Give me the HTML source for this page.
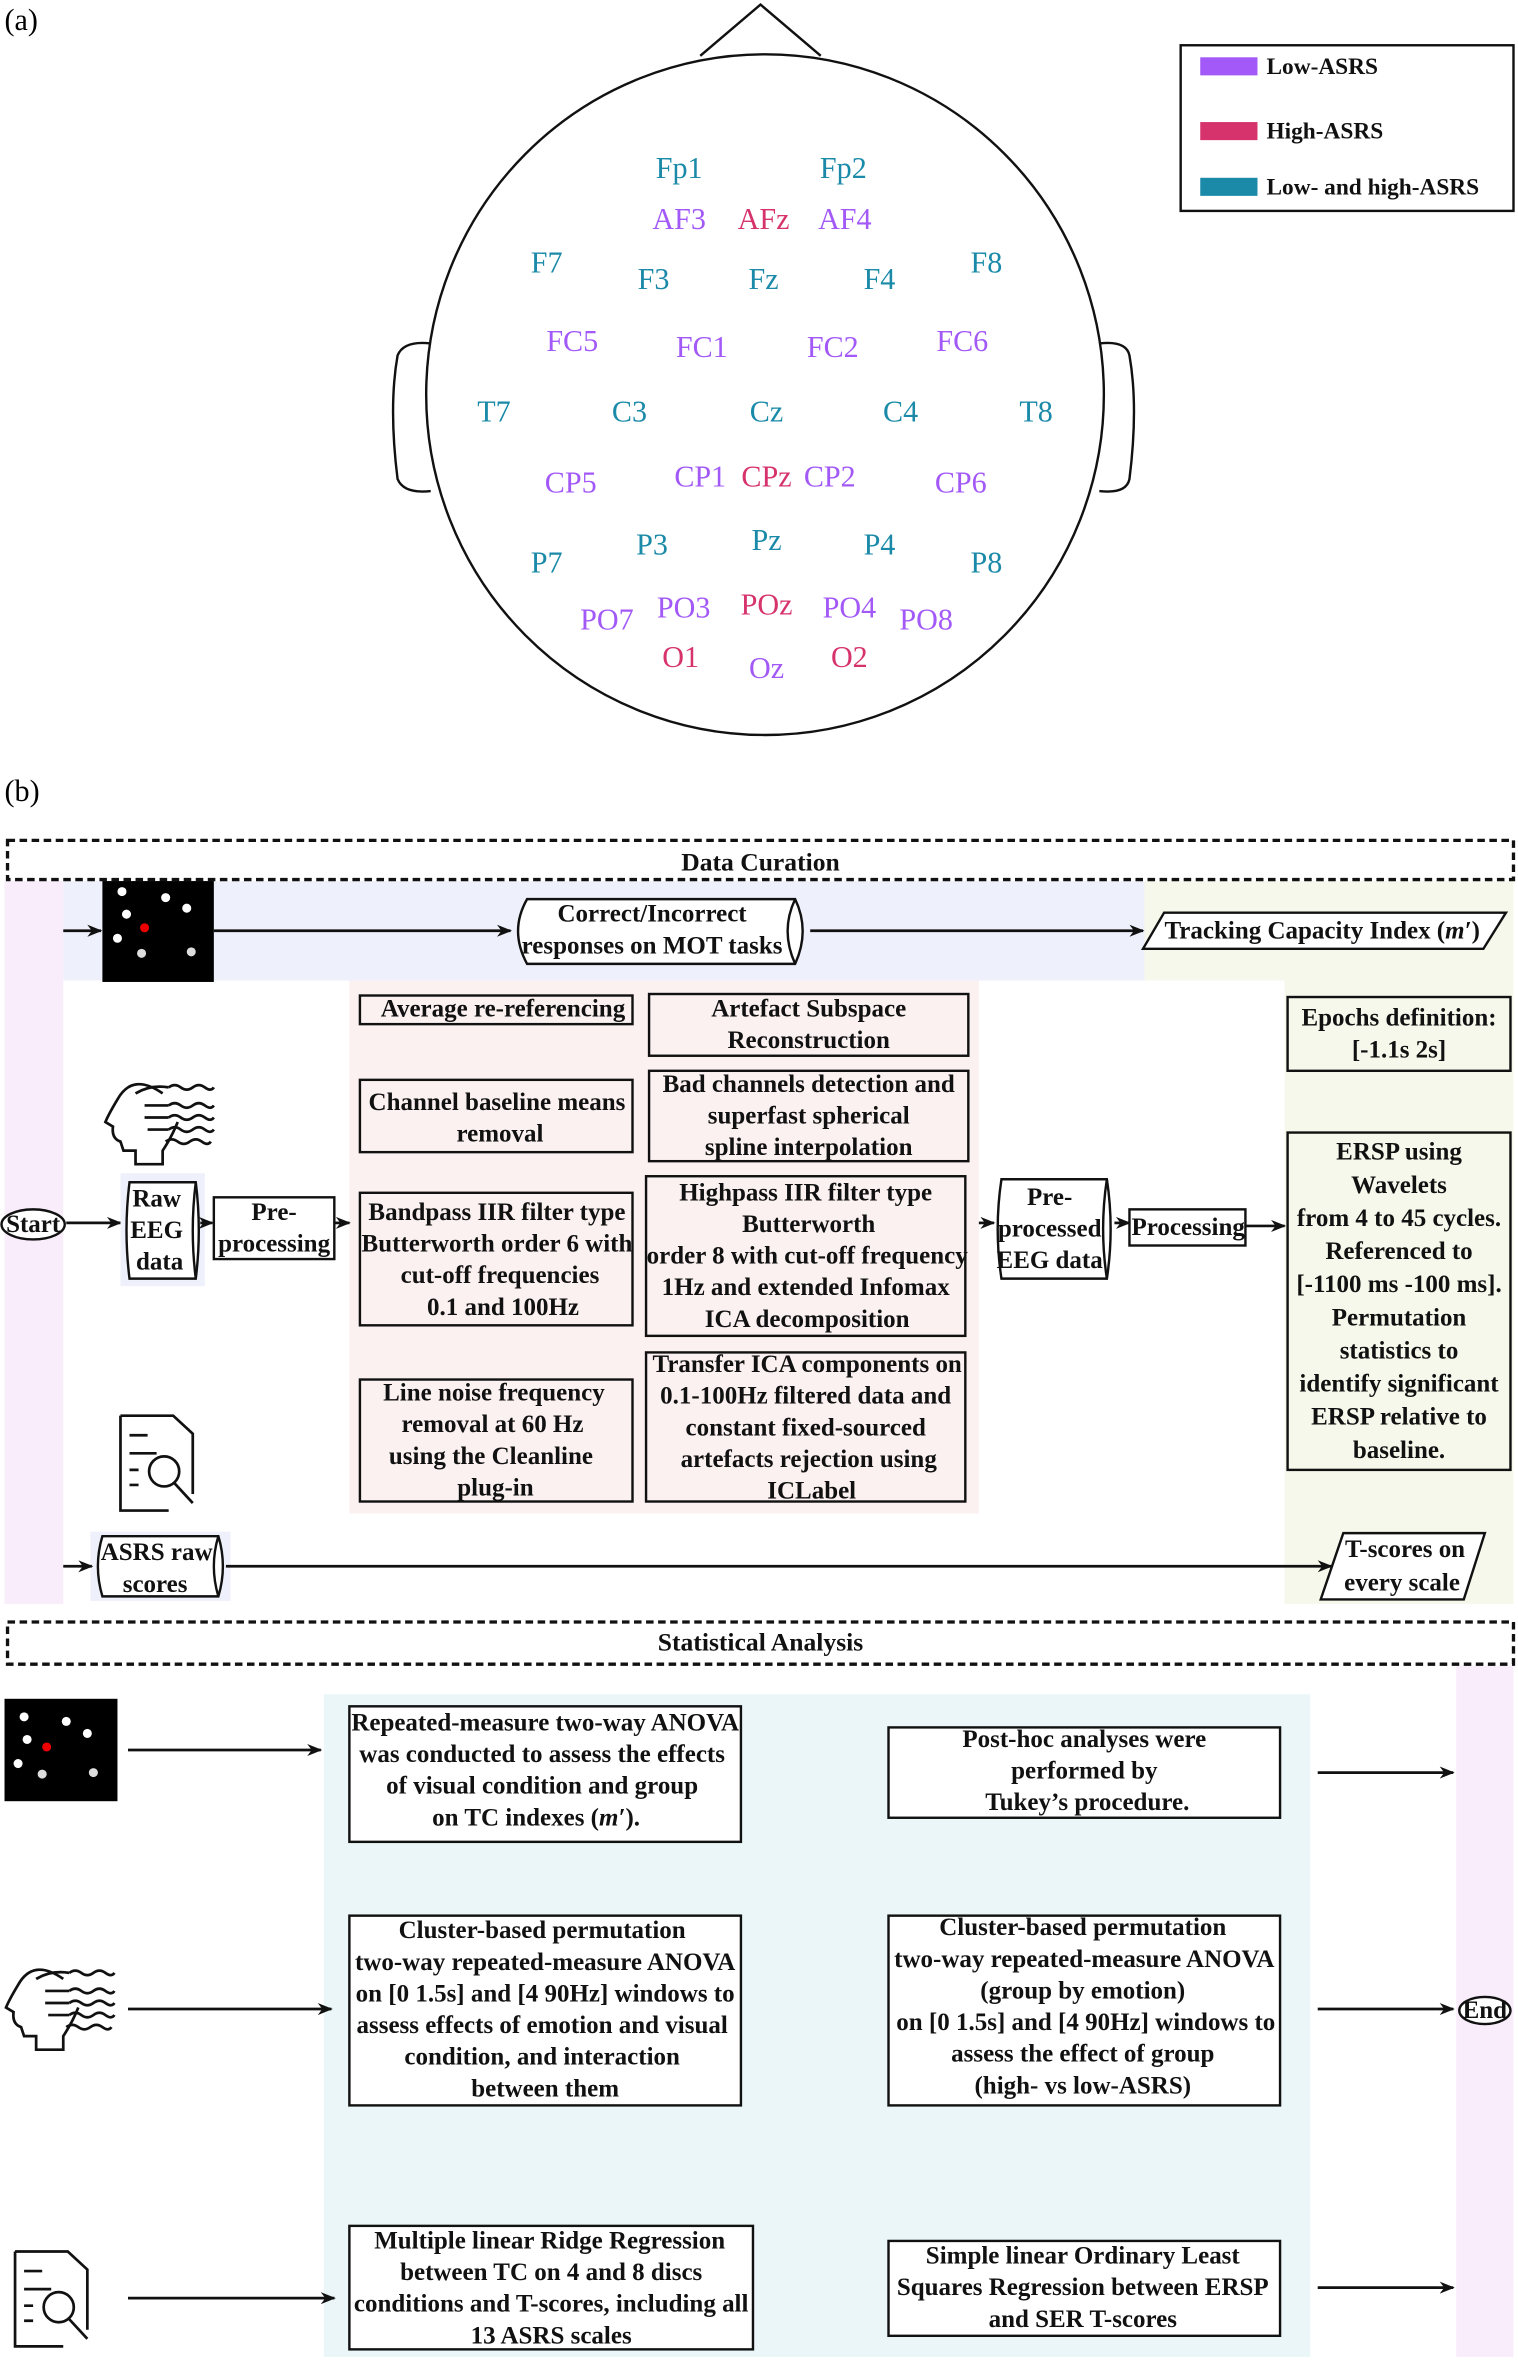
<!DOCTYPE html>
<html><head><meta charset="utf-8"><style>
html,body{margin:0;padding:0;background:#fff;}
svg{display:block;}
.t{font-family:"Liberation Serif",serif;font-weight:bold;font-size:16.6px;text-anchor:middle;fill:#111;}
.e{font-family:"Liberation Serif",serif;font-size:20px;text-anchor:middle;}
.tl{fill:#1a8aa8}.pu{fill:#a259f7}.pk{fill:#d6336c}
.b{fill:none;stroke:#111;stroke-width:1.6}
.bf{stroke:#111;stroke-width:1.6}
.l{stroke:#111;stroke-width:1.8;fill:none}
</style></head><body>
<svg width="1518" height="2363" viewBox="0 0 1008 1569" xmlns="http://www.w3.org/2000/svg">
<defs><marker id="a" markerWidth="10" markerHeight="8" refX="9" refY="4" orient="auto" markerUnits="userSpaceOnUse"><path d="M0,0 L10,4 L0,8 L3,4z" fill="#111"/></marker></defs>
<text x="3" y="20" style="font-family:'Liberation Serif',serif;font-size:20px">(a)</text>
<text x="3" y="532" style="font-family:'Liberation Serif',serif;font-size:20px">(b)</text>
<!-- head -->
<path d="M465,37 L505,3 L545,37" class="b"/>
<path d="M286,228 Q268,226 264,236 Q258,270 264,318 Q268,328 286,326" class="b"/>
<path d="M730,228 Q748,226 750,236 Q756,270 750,318 Q748,328 730,326" class="b"/>
<ellipse cx="508" cy="262" rx="225" ry="226" class="b" fill="#fff"/>
<g class="e">
<text x="451" y="118" class="tl">Fp1</text><text x="560" y="118" class="tl">Fp2</text>
<text x="451" y="152" class="pu">AF3</text><text x="507" y="152" class="pk">AFz</text><text x="561" y="152" class="pu">AF4</text>
<text x="363" y="181" class="tl">F7</text><text x="434" y="192" class="tl">F3</text><text x="507" y="192" class="tl">Fz</text><text x="584" y="192" class="tl">F4</text><text x="655" y="181" class="tl">F8</text>
<text x="380" y="233" class="pu">FC5</text><text x="466" y="237" class="pu">FC1</text><text x="553" y="237" class="pu">FC2</text><text x="639" y="233" class="pu">FC6</text>
<text x="328" y="280" class="tl">T7</text><text x="418" y="280" class="tl">C3</text><text x="509" y="280" class="tl">Cz</text><text x="598" y="280" class="tl">C4</text><text x="688" y="280" class="tl">T8</text>
<text x="379" y="327" class="pu">CP5</text><text x="465" y="323" class="pu">CP1</text><text x="509" y="323" class="pk">CPz</text><text x="551" y="323" class="pu">CP2</text><text x="638" y="327" class="pu">CP6</text>
<text x="363" y="380" class="tl">P7</text><text x="433" y="368" class="tl">P3</text><text x="509" y="365" class="tl">Pz</text><text x="584" y="368" class="tl">P4</text><text x="655" y="380" class="tl">P8</text>
<text x="403" y="418" class="pu">PO7</text><text x="454" y="410" class="pu">PO3</text><text x="509" y="408" class="pk">POz</text><text x="564" y="410" class="pu">PO4</text><text x="615" y="418" class="pu">PO8</text>
<text x="452" y="443" class="pk">O1</text><text x="509" y="450" class="pu">Oz</text><text x="564" y="443" class="pk">O2</text>
</g>
<!-- legend -->
<rect x="784" y="30" width="221" height="110" class="b" stroke-width="2"/>
<rect x="797" y="38" width="38" height="12" fill="#a259f7"/><rect x="797" y="81" width="38" height="12" fill="#d6336c"/><rect x="797" y="118" width="38" height="12" fill="#1a8aa8"/>
<g class="t" style="text-anchor:start;font-size:15.5px"><text x="841" y="49">Low-ASRS</text><text x="841" y="92">High-ASRS</text><text x="841" y="129">Low- and high-ASRS</text></g>

<!-- Data curation -->
<rect x="3" y="585" width="39" height="480" fill="#f9ecfb"/>
<rect x="42" y="585" width="718" height="66" fill="#eef0fb"/>
<rect x="760" y="585" width="245" height="66" fill="#f6f8ec"/>
<rect x="853" y="651" width="152" height="414" fill="#f6f8ec"/>
<rect x="232" y="651" width="418" height="354" fill="#fbf1f1"/>
<rect x="5" y="558" width="1000" height="26" fill="none" stroke="#111" stroke-width="2.2" stroke-dasharray="5,3"/>
<text class="t" x="505" y="578" style="font-size:17px">Data Curation</text>
<!-- MOT image -->
<rect x="68" y="585" width="74" height="67" fill="#000"/>
<g fill="#fff"><circle cx="81" cy="592" r="3"/><circle cx="110" cy="596" r="3"/><circle cx="124" cy="603" r="3"/><circle cx="84" cy="607" r="3"/><circle cx="78" cy="623" r="3"/><circle cx="94" cy="633" r="3" fill="#ddd"/><circle cx="127" cy="632" r="3" fill="#ddd"/></g>
<circle cx="96" cy="616" r="3" fill="#e00"/>
<line x1="42" y1="618" x2="67" y2="618" class="l" marker-end="url(#a)"/>
<line x1="142" y1="618" x2="339" y2="618" class="l" marker-end="url(#a)"/>
<path d="M350,597 L528,597 Q538,618 528,640 L350,640 Q338,618 350,597z" class="bf" fill="#fff"/>
<path d="M528,597 Q518,618 528,640" class="b"/>
<text class="t" x="433" y="612">Correct/Incorrect</text><text class="t" x="433" y="633">responses on MOT tasks</text>
<line x1="538" y1="618" x2="759" y2="618" class="l" marker-end="url(#a)"/>
<path d="M773,606 L1000,606 L985,630 L759,630z" class="bf" fill="#fff"/>
<text class="t" x="878" y="623">Tracking Capacity Index (<tspan font-style="italic">m′</tspan>)</text>
<!-- preprocessing boxes -->
<g fill="#fbf1f1" class="bf">
<rect x="239" y="661" width="181" height="19"/><rect x="239" y="717" width="181" height="48"/>
<rect x="239" y="792" width="181" height="88"/><rect x="239" y="916" width="181" height="81"/>
<rect x="431" y="660" width="212" height="41"/><rect x="431" y="711" width="212" height="60"/>
<rect x="429" y="781" width="212" height="106"/><rect x="429" y="898" width="212" height="99"/>
</g>
<g class="t">
<text x="334" y="675">Average re-referencing</text>
<text x="330" y="737">Channel baseline means</text><text x="332" y="758">removal</text>
<text x="330" y="810">Bandpass IIR filter type</text><text x="330" y="831">Butterworth order 6 with</text><text x="332" y="852">cut-off frequencies</text><text x="334" y="873">0.1 and 100Hz</text>
<text x="328" y="930">Line noise frequency</text><text x="327" y="951">removal at 60 Hz</text><text x="326" y="972">using the Cleanline</text><text x="329" y="993">plug-in</text>
<text x="537" y="675">Artefact Subspace</text><text x="537" y="696">Reconstruction</text>
<text x="537" y="725">Bad channels detection and</text><text x="537" y="746">superfast spherical</text><text x="537" y="767">spline interpolation</text>
<text x="535" y="797">Highpass IIR filter type</text><text x="537" y="818">Butterworth</text><text x="536" y="839">order 8 with cut-off frequency</text><text x="535" y="860">1Hz and extended Infomax</text><text x="536" y="881">ICA decomposition</text>
<text x="536" y="911">Transfer ICA components on</text><text x="535" y="932">0.1-100Hz filtered data and</text><text x="535" y="953">constant fixed-sourced</text><text x="537" y="974">artefacts rejection using</text><text x="539" y="995">ICLabel</text>
</g>
<!-- start row -->
<ellipse cx="22" cy="813" rx="21" ry="10" class="bf" fill="#fff"/>
<text class="t" x="22" y="818">Start</text>
<line x1="44" y1="812" x2="80" y2="812" class="l" marker-end="url(#a)"/>
<rect x="80" y="779" width="56" height="75" fill="#eef0fb"/>
<path d="M86,785 L130,785 Q134,817 130,849 L86,849 Q82,817 86,785z" class="bf" fill="#fff"/>
<path d="M130,785 Q126,817 130,849" class="b"/>
<text class="t" x="104" y="801">Raw</text><text class="t" x="104" y="822">EEG</text><text class="t" x="106" y="843">data</text>
<line x1="133" y1="812" x2="141" y2="812" class="l" marker-end="url(#a)"/>
<rect x="142" y="795" width="80" height="41" class="bf" fill="#fff"/>
<text class="t" x="182" y="810">Pre-</text><text class="t" x="182" y="831">processing</text>
<line x1="222" y1="812" x2="232" y2="812" class="l" marker-end="url(#a)"/>
<line x1="650" y1="812" x2="660" y2="812" class="l" marker-end="url(#a)"/>
<path d="M665,783 L735,783 Q740,816 735,849 L665,849 Q660,816 665,783z" class="bf" fill="#fff"/>
<path d="M735,783 Q730,816 735,849" class="b"/>
<text class="t" x="697" y="800">Pre-</text><text class="t" x="697" y="821">processed</text><text class="t" x="697" y="842">EEG data</text>
<line x1="740" y1="812" x2="750" y2="812" class="l" marker-end="url(#a)"/>
<rect x="750" y="803" width="77" height="24" class="bf" fill="#fff"/>
<text class="t" x="789" y="820">Processing</text>
<line x1="827" y1="814" x2="853" y2="814" class="l" marker-end="url(#a)"/>
<rect x="855" y="662" width="148" height="49" class="bf" fill="#f6f8ec"/>
<text class="t" x="929" y="681">Epochs definition:</text><text class="t" x="929" y="702">[-1.1s 2s]</text>
<rect x="855" y="752" width="148" height="224" class="bf" fill="#f6f8ec"/>
<g class="t"><text x="929" y="770">ERSP using</text><text x="929" y="792">Wavelets</text><text x="929" y="814">from 4 to 45 cycles.</text><text x="929" y="836">Referenced to</text><text x="929" y="858">[-1100 ms -100 ms].</text><text x="929" y="880">Permutation</text><text x="929" y="902">statistics to</text><text x="929" y="924">identify significant</text><text x="929" y="946">ERSP relative to</text><text x="929" y="968">baseline.</text></g>
<!-- head icon -->
<g id="hd" class="l" stroke-width="1.6">
<path d="M108,726 Q88,712 78,730 Q72,740 70,745 L75,748 Q74,756 80,758 L82,764 L90,764 L90,773 L108,773 L108,764 Q114,755 118,745"/>
<path d="M90,726 Q100,720 112,722 M96,734 L112,734 M96,742 L112,742 M98,750 L112,750"/>
<path d="M112,722 q4,-3 8,0 t8,0 t8,0 t6,0 M112,734 q4,-3 8,0 t8,0 t8,0 t6,0 M112,742 q4,-3 8,0 t8,0 t8,0 t6,0 M112,750 q4,-3 8,0 t8,0 t8,0 t6,0 M110,758 q4,-3 8,0 t8,0 t8,0 t6,0"/>
</g>
<!-- doc icon -->
<g id="dc" class="l" stroke-width="2">
<path d="M80,940 L115,940 L128,952 L128,992 M80,940 L80,1003 L112,1003"/>
<path d="M86,953 L98,953 M86,965 L104,965 M86,976 L92,976 M86,986 L92,986"/>
<circle cx="109" cy="977" r="10"/><path d="M116,985 L128,998"/>
</g>
<!-- ASRS -->
<rect x="60" y="1017" width="93" height="46" fill="#eef0fb"/>
<path d="M68,1020 L145,1020 Q151,1040 145,1060 L68,1060 Q62,1040 68,1020z" class="bf" fill="#fff"/>
<path d="M145,1020 Q139,1040 145,1060" class="b"/>
<text class="t" x="104" y="1036">ASRS raw</text><text class="t" x="103" y="1057">scores</text>
<line x1="42" y1="1040" x2="61" y2="1040" class="l" marker-end="url(#a)"/>
<line x1="150" y1="1040" x2="884" y2="1040" class="l" marker-end="url(#a)"/>
<path d="M892,1018 L986,1018 L972,1062 L877,1062z" class="bf" fill="#fff"/>
<text class="t" x="933" y="1034">T-scores on</text><text class="t" x="931" y="1056">every scale</text>

<!-- Statistical analysis -->
<rect x="215" y="1125" width="655" height="440" fill="#eaf6f8"/>
<rect x="967" y="1106" width="38" height="459" fill="#f9ecfb"/>
<rect x="5" y="1077" width="1000" height="28" fill="none" stroke="#111" stroke-width="2.2" stroke-dasharray="5,3"/>
<text class="t" x="505" y="1096" style="font-size:17px">Statistical Analysis</text>
<rect x="3" y="1128" width="75" height="68" fill="#000"/>
<g fill="#fff"><circle cx="16" cy="1140" r="3"/><circle cx="44" cy="1143" r="3"/><circle cx="58" cy="1151" r="3"/><circle cx="18" cy="1155" r="3"/><circle cx="12" cy="1171" r="3"/><circle cx="28" cy="1178" r="3" fill="#ddd"/><circle cx="62" cy="1177" r="3" fill="#ddd"/></g>
<circle cx="31" cy="1160" r="3" fill="#e00"/>
<line x1="85" y1="1162" x2="213" y2="1162" class="l" marker-end="url(#a)"/>
<use href="#hd" transform="translate(-66,588)"/>
<line x1="85" y1="1334" x2="220" y2="1334" class="l" marker-end="url(#a)"/>
<use href="#dc" transform="translate(-70,555)"/>
<line x1="85" y1="1526" x2="222" y2="1526" class="l" marker-end="url(#a)"/>
<g fill="#fff" class="bf">
<rect x="232" y="1133" width="260" height="90"/><rect x="590" y="1147" width="260" height="60"/>
<rect x="232" y="1272" width="260" height="126"/><rect x="590" y="1272" width="260" height="126"/>
<rect x="232" y="1478" width="268" height="82"/><rect x="590" y="1488" width="260" height="63"/>
</g>
<g class="t">
<text x="362" y="1149">Repeated-measure two-way ANOVA</text><text x="360" y="1170">was conducted to assess the effects</text><text x="360" y="1191">of visual condition and group</text><text x="356" y="1212">on TC indexes (<tspan font-style="italic">m′</tspan>).</text>
<text x="720" y="1160">Post-hoc analyses were</text><text x="720" y="1181">performed by</text><text x="722" y="1202">Tukey’s procedure.</text>
<text x="360" y="1287">Cluster-based permutation</text><text x="362" y="1308">two-way repeated-measure ANOVA</text><text x="362" y="1329">on [0 1.5s] and [4 90Hz] windows to</text><text x="360" y="1350">assess effects of emotion and visual</text><text x="360" y="1371">condition, and interaction</text><text x="362" y="1392">between them</text>
<text x="719" y="1285">Cluster-based permutation</text><text x="720" y="1306">two-way repeated-measure ANOVA</text><text x="719" y="1327">(group by emotion)</text><text x="721" y="1348">on [0 1.5s] and [4 90Hz] windows to</text><text x="719" y="1369">assess the effect of group</text><text x="719" y="1390">(high- vs low-ASRS)</text>
<text x="365" y="1493">Multiple linear Ridge Regression</text><text x="366" y="1514">between TC on 4 and 8 discs</text><text x="366" y="1535">conditions and T-scores, including all</text><text x="366" y="1556">13 ASRS scales</text>
<text x="719" y="1503">Simple linear Ordinary Least</text><text x="719" y="1524">Squares Regression between ERSP</text><text x="719" y="1545">and SER T-scores</text>
</g>
<line x1="875" y1="1177" x2="965" y2="1177" class="l" marker-end="url(#a)"/>
<line x1="875" y1="1334" x2="965" y2="1334" class="l" marker-end="url(#a)"/>
<line x1="875" y1="1519" x2="965" y2="1519" class="l" marker-end="url(#a)"/>
<ellipse cx="986" cy="1335" rx="17" ry="9" class="bf" fill="#fff"/>
<text class="t" x="986" y="1340">End</text>
</svg>
</body></html>
